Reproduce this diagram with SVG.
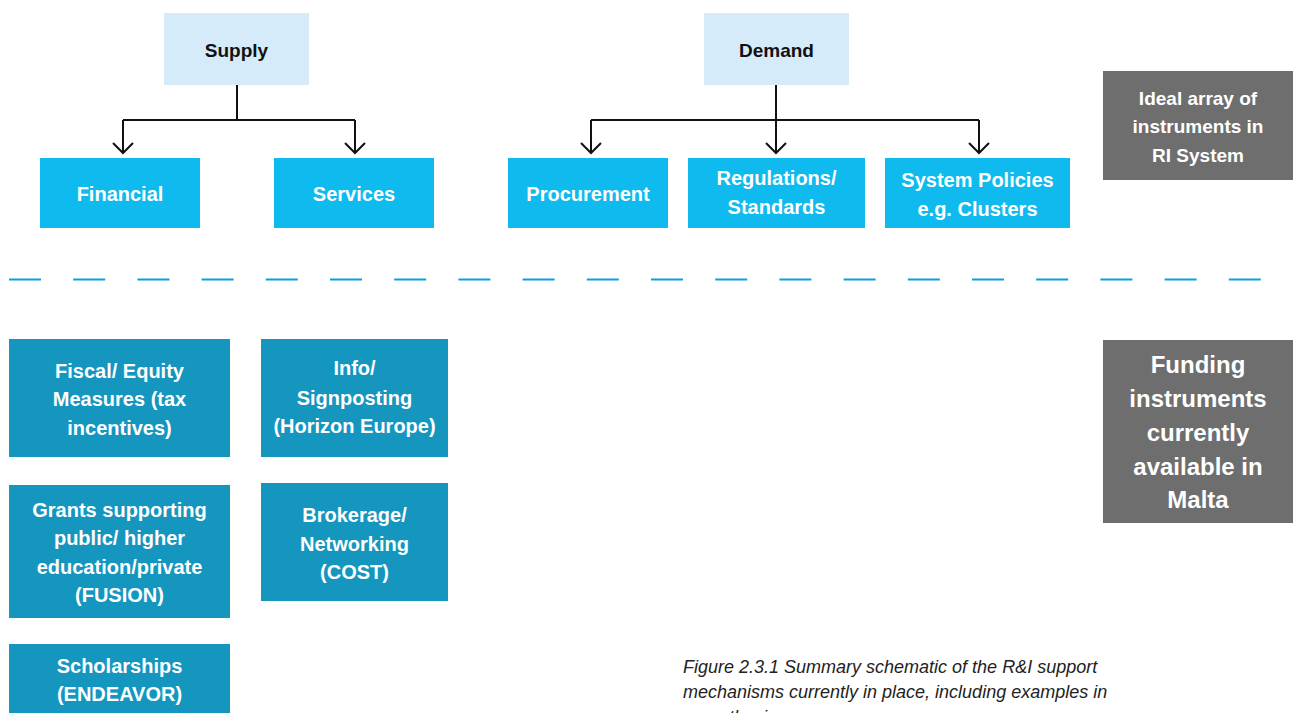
<svg xmlns="http://www.w3.org/2000/svg" width="1293" height="713" viewBox="0 0 1293 713">
<defs>
<style>
.top{fill:#d5ebfa}
.mid{fill:#0fbaee}
.low{fill:#1496bf}
.gray{fill:#6e6e6e}
text{font-family:"Liberation Sans",Arial,sans-serif;font-weight:700;text-anchor:middle}
.dk{fill:#111;font-size:19px}
.wt{fill:#fff;font-size:20px}
.gw{fill:#fff;font-size:19px}
.gb{fill:#fff;font-size:24px}
.cap{fill:#222;font-size:18px;font-weight:400;font-style:italic;text-anchor:start}
.conn{fill:none;stroke:#111;stroke-width:2}
</style>
</defs>
<rect width="1293" height="713" fill="#fff"/>
<g id="connectors">
<path class="conn" d="M237,85 V120 M123,120 H355 M123,120 V153 M355,120 V153"/>
<path class="conn" d="M113,143 L123,153 L133,143 M345,143 L355,153 L365,143"/>
<path class="conn" d="M776,85 V153 M591,120 H979 M591,120 V153 M979,120 V153"/>
<path class="conn" d="M581,143 L591,153 L601,143 M766,143 L776,153 L786,143 M969,143 L979,153 L989,143"/>
<line x1="9" y1="279.5" x2="1263" y2="279.5" stroke="#0a9fe0" stroke-width="2" stroke-dasharray="32 32.2"/>
</g>
<g id="supply"><rect class="top" x="164" y="13" width="145" height="72"/><text class="dk" x="236.5" y="57">Supply</text></g>
<g id="demand"><rect class="top" x="704" y="13" width="145" height="72"/><text class="dk" x="776.5" y="57">Demand</text></g>
<g id="financial"><rect class="mid" x="40" y="158" width="160" height="70"/><text class="wt" x="120" y="201">Financial</text></g>
<g id="services"><rect class="mid" x="274" y="158" width="160" height="70"/><text class="wt" x="354" y="201">Services</text></g>
<g id="procurement"><rect class="mid" x="508" y="158" width="160" height="70"/><text class="wt" x="588" y="201">Procurement</text></g>
<g id="regulations"><rect class="mid" x="688" y="158" width="177" height="70"/><text class="wt" x="776.5" y="185">Regulations/</text><text class="wt" x="776.5" y="214">Standards</text></g>
<g id="system-policies"><rect class="mid" x="885" y="158" width="185" height="70"/><text class="wt" x="977.5" y="187">System Policies</text><text class="wt" x="977.5" y="216">e.g. Clusters</text></g>
<g id="ideal"><rect class="gray" x="1103" y="71" width="190" height="109"/><text class="gw" x="1198" y="105">Ideal array of</text><text class="gw" x="1198" y="133">instruments in</text><text class="gw" x="1198" y="162">RI System</text></g>
<g id="funding"><rect class="gray" x="1103" y="340" width="190" height="183"/><text class="gb" x="1198" y="373">Funding</text><text class="gb" x="1198" y="407">instruments</text><text class="gb" x="1198" y="441">currently</text><text class="gb" x="1198" y="475">available in</text><text class="gb" x="1198" y="508">Malta</text></g>
<g id="fiscal"><rect class="low" x="9" y="339" width="221" height="118"/><text class="wt" x="119.5" y="378">Fiscal/ Equity</text><text class="wt" x="119.5" y="406">Measures (tax</text><text class="wt" x="119.5" y="435">incentives)</text></g>
<g id="info"><rect class="low" x="261" y="339" width="187" height="118"/><text class="wt" x="354.5" y="375">Info/</text><text class="wt" x="354.5" y="405">Signposting</text><text class="wt" x="354.5" y="433">(Horizon Europe)</text></g>
<g id="grants"><rect class="low" x="9" y="485" width="221" height="133"/><text class="wt" x="119.5" y="517">Grants supporting</text><text class="wt" x="119.5" y="545">public/ higher</text><text class="wt" x="119.5" y="574">education/private</text><text class="wt" x="119.5" y="602">(FUSION)</text></g>
<g id="brokerage"><rect class="low" x="261" y="483" width="187" height="118"/><text class="wt" x="354.5" y="522">Brokerage/</text><text class="wt" x="354.5" y="551">Networking</text><text class="wt" x="354.5" y="579">(COST)</text></g>
<g id="scholarships"><rect class="low" x="9" y="644" width="221" height="75"/><text class="wt" x="119.5" y="673">Scholarships</text><text class="wt" x="119.5" y="701">(ENDEAVOR)</text></g>
<g id="caption"><text class="cap" x="683" y="673">Figure 2.3.1 Summary schematic of the R&amp;I support</text><text class="cap" x="683" y="698">mechanisms currently in place, including examples in</text><text class="cap" x="683" y="723">parenthesis.</text></g>
</svg>
